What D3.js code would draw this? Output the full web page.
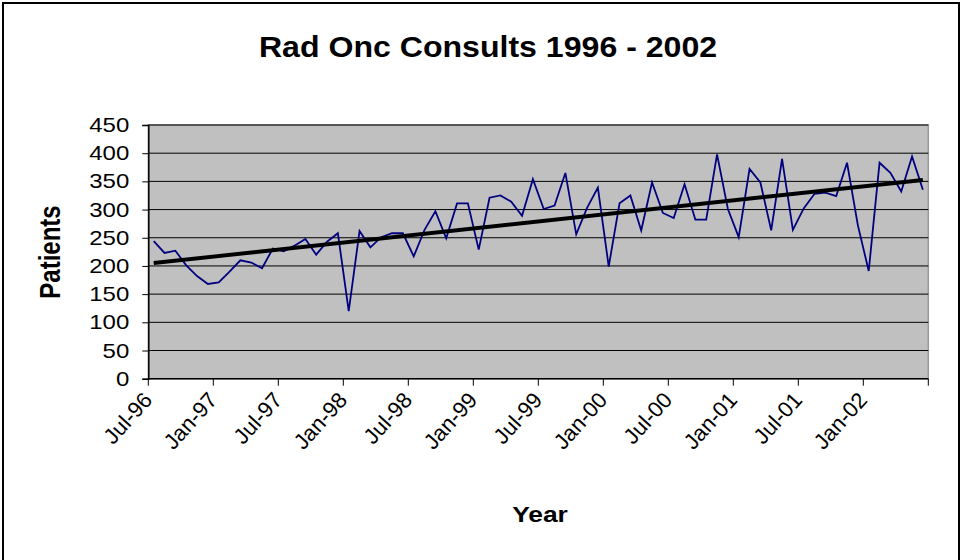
<!DOCTYPE html>
<html>
<head>
<meta charset="utf-8">
<script src="https://cdn.jsdelivr.net/npm/d3@7"></script>
<style>
  body { margin: 0; background: #fff; }
  svg { display: block; font-family: Arial, "Liberation Sans", sans-serif; }
</style>
</head>
<body>
<div id="chart"></div>
<script>
// monthly categories Jul-96 .. Jun-02
const months = d3.timeMonth.range(new Date(1996, 6, 1), new Date(2002, 6, 1));

const patients = [
  244, 223, 227, 201, 182, 168, 171, 190, 210, 206, 196, 231,
  226, 236, 248, 220, 243, 258, 120, 262, 233, 251, 258, 258,
  217, 264, 297, 249, 311, 311, 229, 321, 325, 314, 289, 354,
  301, 307, 365, 256, 303, 339, 199, 311, 325, 263, 348, 294,
  285, 345, 282, 282, 398, 301, 251, 372, 348, 263, 390, 264,
  302, 328, 330, 324, 383, 272, 191, 383, 365, 332, 394, 335
];

const yTicks = [0, 50, 100, 150, 200, 250, 300, 350, 400, 450];
const tickLabels = ["Jul-96", "Jan-97", "Jul-97", "Jan-98", "Jul-98", "Jan-99",
  "Jul-99", "Jan-00", "Jul-00", "Jan-01", "Jul-01", "Jan-02"];
const labelEvery = 6;

const W = 962, H = 560;
const plot = { left: 148.3, right: 928.3, top: 125, bottom: 378.7 };
const sx = 1.2; // the original text is a little wider than tall

const svg = d3.select("#chart").append("svg")
  .attr("width", W)
  .attr("height", H);

// outer chart frame
svg.append("rect")
  .attr("x", 3).attr("y", 3)
  .attr("width", W - 6).attr("height", H + 20)
  .attr("fill", "#fff")
  .attr("stroke", "#000")
  .attr("stroke-width", 2);

const x = d3.scaleBand()
  .domain(d3.range(months.length))
  .range([plot.left, plot.right])
  .padding(0);

const y = d3.scaleLinear()
  .domain([0, 450])
  .range([plot.bottom, plot.top]);

const cx = i => x(i) + x.bandwidth() / 2;

// plot area
svg.append("rect")
  .attr("x", plot.left).attr("y", plot.top)
  .attr("width", plot.right - plot.left)
  .attr("height", plot.bottom - plot.top)
  .attr("fill", "#c0c0c0")
  .attr("stroke", "#9a9a9a")
  .attr("stroke-width", 1.5);

// gridlines
svg.append("g")
  .selectAll("line")
  .data(yTicks.filter(d => d > 0))
  .enter()
  .append("line")
  .attr("x1", plot.left).attr("x2", plot.right)
  .attr("y1", d => y(d)).attr("y2", d => y(d))
  .attr("stroke", "#000")
  .attr("stroke-width", 1);

// Y axis
const yAxis = svg.append("g")
  .attr("transform", `translate(${plot.left},0)`)
  .call(d3.axisLeft(y).tickValues(yTicks).tickSize(6).tickFormat(""));
yAxis.select(".domain").attr("stroke", "#000").attr("stroke-width", 1.5);
yAxis.selectAll("line").attr("stroke", "#000");

svg.append("g")
  .selectAll("text")
  .data(yTicks)
  .enter()
  .append("text")
  .attr("transform", d => `translate(${plot.left - 19},${y(d)}) scale(${sx},1)`)
  .attr("text-anchor", "end")
  .attr("dy", "0.35em")
  .attr("font-size", 20)
  .text(d => d);

// X axis line and ticks every 6 months
svg.append("line")
  .attr("x1", plot.left).attr("x2", plot.right)
  .attr("y1", plot.bottom).attr("y2", plot.bottom)
  .attr("stroke", "#000").attr("stroke-width", 1.5);

const tickIdx = d3.range(0, months.length + 1, labelEvery);
svg.append("g")
  .selectAll("line")
  .data(tickIdx)
  .enter()
  .append("line")
  .attr("x1", d => d < months.length ? x(d) : plot.right)
  .attr("x2", d => d < months.length ? x(d) : plot.right)
  .attr("y1", plot.bottom).attr("y2", plot.bottom + 7)
  .attr("stroke", "#000");

svg.append("g")
  .selectAll("text")
  .data(tickLabels)
  .enter()
  .append("text")
  .attr("transform", (d, i) => `translate(${cx(i * labelEvery) - 6},${plot.bottom + 17}) rotate(-48)`)
  .attr("text-anchor", "end")
  .attr("dy", "0.35em")
  .attr("font-size", 22)
  .text(d => d);

// trend line (least squares over the series)
const idx = d3.range(patients.length);
const mx = d3.mean(idx), my = d3.mean(patients);
const slope = d3.sum(idx, i => (i - mx) * (patients[i] - my)) / d3.sum(idx, i => (i - mx) ** 2);
const icpt = my - slope * mx;
const n = patients.length - 1;

// data line
svg.append("path")
  .datum(patients)
  .attr("fill", "none")
  .attr("stroke", "#000080")
  .attr("stroke-width", 1.8)
  .attr("stroke-linejoin", "miter")
  .attr("d", d3.line().x((d, i) => cx(i)).y(d => y(d)));

svg.append("line")
  .attr("x1", cx(0)).attr("y1", y(icpt))
  .attr("x2", cx(n)).attr("y2", y(icpt + slope * n))
  .attr("stroke", "#000")
  .attr("stroke-width", 4);

// titles
svg.append("text")
  .attr("transform", "translate(488,57) scale(1.07,1)")
  .attr("text-anchor", "middle")
  .attr("font-size", 30)
  .attr("font-weight", "bold")
  .text("Rad Onc Consults 1996 - 2002");

svg.append("text")
  .attr("transform", `translate(60,252) scale(${sx},1) rotate(-90)`)
  .attr("text-anchor", "middle")
  .attr("font-size", 24)
  .attr("font-weight", "bold")
  .text("Patients");

svg.append("text")
  .attr("transform", `translate(540,522) scale(${sx},1)`)
  .attr("text-anchor", "middle")
  .attr("font-size", 22)
  .attr("font-weight", "bold")
  .text("Year");
</script>
</body>
</html>
